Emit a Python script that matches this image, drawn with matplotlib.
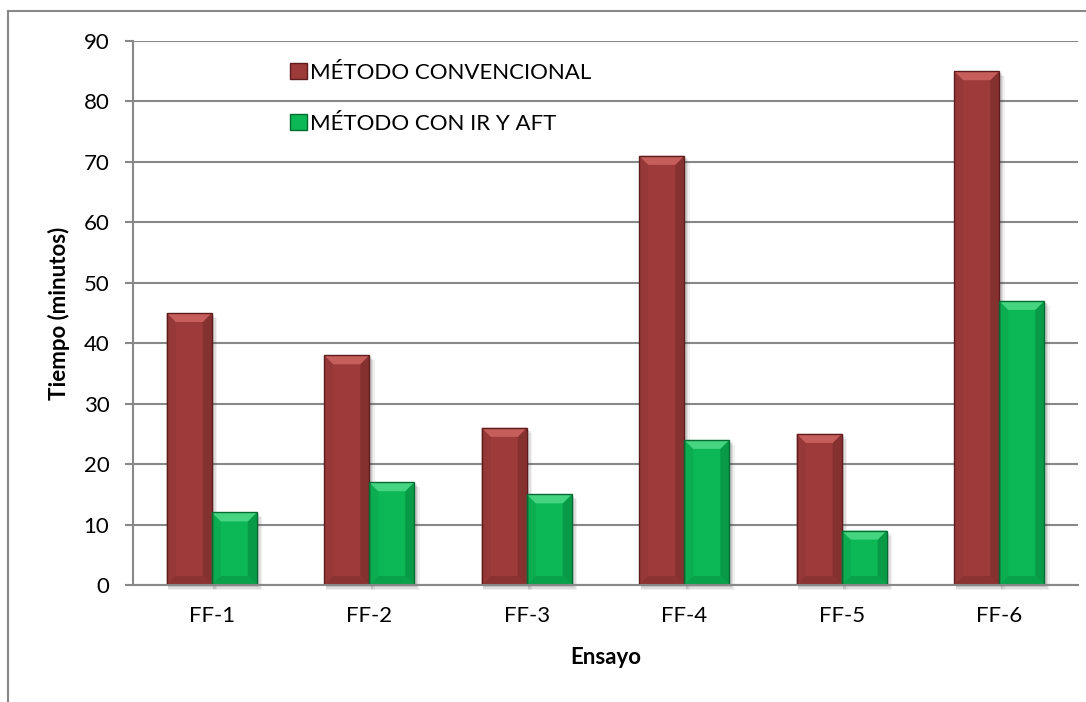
import matplotlib
matplotlib.use("Agg")
import matplotlib.pyplot as plt
from matplotlib.patches import Polygon, Rectangle, Patch
from matplotlib.lines import Line2D
import numpy as np

plt.rcParams['font.family'] = ['Lato', 'DejaVu Sans']

ensayos = ["FF-1", "FF-2", "FF-3", "FF-4", "FF-5", "FF-6"]
convencional = [45, 38, 26, 71, 25, 85]
ir_aft = [12, 17, 15, 24, 9, 47]
series_names = ["MÉTODO CONVENCIONAL", "MÉTODO CON IR Y AFT"]
y_ticks = [0, 10, 20, 30, 40, 50, 60, 70, 80, 90]

# base, highlight (top bevel), left, right, bottom, outline
red_shades = ("#9d3b3a", "#c65e5c", "#953837", "#843130", "#8a3332", "#5e1d1c")
green_shades = ("#0cb755", "#45d480", "#0bad50", "#099a47", "#0aa14b", "#066b31")

W, H = 1086, 702
FS = 16
fig = plt.figure(figsize=(W / 100, H / 100), dpi=100)
ax = fig.add_axes([133 / W, 1 - 585 / H, (1078 - 133) / W, (585 - 41) / H])

n = len(ensayos)
x = np.arange(n)
bw = 0.2857
ax.set_xlim(-0.5, n - 0.5)
ax.set_ylim(0, 90)

# pixel size in data units
px_x = n / (1078 - 133)
px_y = 90 / (585 - 41)


def bevel_bar(xc, h, shades):
    base, hi, left, right, bottom, edge = shades
    x0, x1 = xc - bw / 2, xc + bw / 2
    bx, by = 9 * px_x, 9 * px_y
    by = min(by, h / 3)
    # soft drop shadow
    for k, a in zip((5, 3.5, 2), (0.07, 0.10, 0.14)):
        ax.add_patch(Rectangle((x0 + 1.5 * px_x, -k * px_y), bw + (k - 1) * px_x, h,
                               facecolor="#404040", alpha=a, lw=0, zorder=2,
                               clip_on=False))
    ax.add_patch(Rectangle((x0, 0), bw, h, facecolor=base, edgecolor="none", zorder=3))
    # bevel faces
    ax.add_patch(Polygon([(x0, 0), (x0 + bx, by), (x0 + bx, h - by), (x0, h)],
                         closed=True, facecolor=left, lw=0, zorder=4))
    ax.add_patch(Polygon([(x1, 0), (x1, h), (x1 - bx, h - by), (x1 - bx, by)],
                         closed=True, facecolor=right, lw=0, zorder=4))
    ax.add_patch(Polygon([(x0, 0), (x1, 0), (x1 - bx, by), (x0 + bx, by)],
                         closed=True, facecolor=bottom, lw=0, zorder=4))
    ax.add_patch(Polygon([(x0, h), (x1, h), (x1 - bx, h - by), (x0 + bx, h - by)],
                         closed=True, facecolor=hi, lw=0, zorder=4))
    ax.add_patch(Rectangle((x0, 0), bw, h, facecolor="none", edgecolor=edge,
                           lw=1.0, zorder=5))


for i in range(n):
    bevel_bar(x[i] - bw / 2, convencional[i], red_shades)
    bevel_bar(x[i] + bw / 2, ir_aft[i], green_shades)

# grid and axes styling
ax.set_yticks(y_ticks)
ax.set_yticklabels([str(v) for v in y_ticks], fontsize=FS)
ax.set_xticks(x)
ax.set_xticklabels(ensayos, fontsize=FS)
ax.yaxis.grid(True, color="#888888", lw=1.5, zorder=0)
ax.set_axisbelow(True)
for s in ("top", "right"):
    ax.spines[s].set_visible(False)
ax.spines["left"].set_color("#888888")
ax.spines["left"].set_linewidth(1.5)
ax.spines["bottom"].set_color("#888888")
ax.spines["bottom"].set_linewidth(1.5)
ax.spines["bottom"].set_zorder(6)
ax.tick_params(axis="y", length=6, width=1.5, color="#888888", pad=11, labelcolor="black")
ax.tick_params(axis="x", length=0, pad=15, labelcolor="black")

ax.set_ylabel("Tiempo (minutos)", fontsize=FS, fontweight="bold", labelpad=10)
ax.set_xlabel("Ensayo", fontsize=FS, fontweight="bold", labelpad=15)

handles = [Patch(facecolor=red_shades[0], edgecolor=red_shades[5]),
           Patch(facecolor=green_shades[0], edgecolor=green_shades[5])]
ax.legend(handles, series_names, loc="upper left", bbox_to_anchor=(0.166, 0.96),
          frameon=False, fontsize=FS, handlelength=0.75, handleheight=0.75,
          handletextpad=0.15, labelspacing=1.4, borderpad=0, borderaxespad=0)

# chart area border
fig.add_artist(Line2D([8 / W, 8 / W], [0, 1 - 11 / H], color="#888888", lw=1.5))
fig.add_artist(Line2D([8 / W, 1], [1 - 11 / H, 1 - 11 / H], color="#888888", lw=1.5))

fig.savefig("out.png", dpi=100)
